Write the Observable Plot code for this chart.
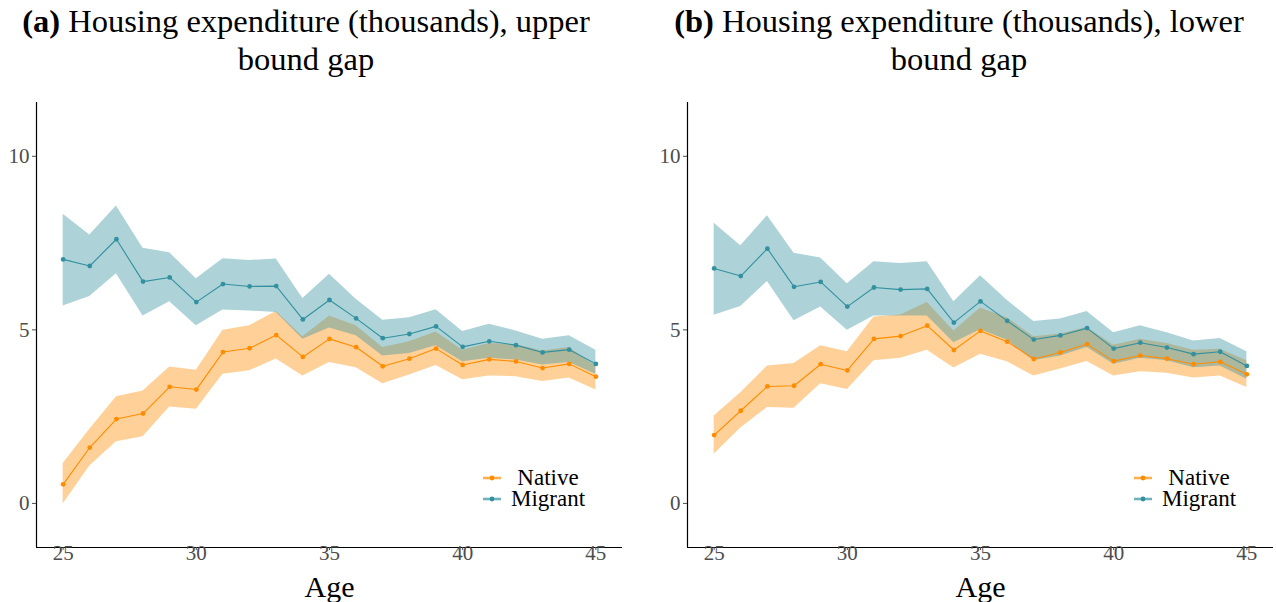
<!DOCTYPE html>
<html>
<head>
<meta charset="utf-8">
<script src="https://cdn.jsdelivr.net/npm/d3@7"></script>
<script src="https://cdn.jsdelivr.net/npm/@observablehq/plot@0.6"></script>
<style>
  html, body { margin: 0; padding: 0; background: #fff; }
  #root { position: relative; width: 1276px; height: 602px; overflow: hidden; font-family: "Liberation Serif", serif; }
  .title { position: absolute; top: 2px; text-align: center; font-size: 32.5px; line-height: 38px; color: #000; white-space: nowrap; }
  .panel { position: absolute; top: 90px; }
  .legend { position: absolute; font-size: 23px; line-height: 21px; color: #000; text-align: center; white-space: nowrap; transform: translateX(-50%); }
  .key { position: absolute; }
</style>
</head>
<body>
<div id="root"></div>
<script>
// ---- data ----
const ages = [25, 26, 27, 28, 29, 30, 31, 32, 33, 34, 35, 36, 37, 38, 39, 40, 41, 42, 43, 44, 45];
const yTicks = [0, 5, 10];
const xTicks = [25, 30, 35, 40, 45];
const seriesNames = ["Native", "Migrant"];

// Panel (a): upper bound gap
const nativeA   = [0.55, 1.61, 2.43, 2.59, 3.36, 3.28, 4.36, 4.47, 4.85, 4.22, 4.74, 4.50, 3.95, 4.17, 4.46, 3.99, 4.15, 4.09, 3.90, 4.02, 3.65];
const nativeALo = [-0.02, 1.08, 1.78, 1.92, 2.78, 2.71, 3.72, 3.82, 4.16, 3.67, 4.06, 3.91, 3.45, 3.70, 3.97, 3.56, 3.67, 3.65, 3.51, 3.61, 3.27];
const nativeAHi = [1.15, 2.14, 3.07, 3.24, 3.93, 3.84, 4.99, 5.12, 5.53, 4.80, 5.40, 5.12, 4.49, 4.66, 4.94, 4.41, 4.61, 4.57, 4.39, 4.49, 3.96];
const migrantA   = [7.03, 6.84, 7.61, 6.39, 6.51, 5.80, 6.32, 6.25, 6.26, 5.30, 5.86, 5.33, 4.76, 4.88, 5.10, 4.51, 4.67, 4.56, 4.35, 4.43, 4.02];
const migrantALo = [5.69, 5.96, 6.62, 5.40, 5.81, 5.12, 5.57, 5.54, 5.50, 4.73, 5.05, 4.83, 4.25, 4.32, 4.54, 4.08, 4.18, 4.13, 3.99, 4.06, 3.72];
const migrantAHi = [8.33, 7.73, 8.57, 7.35, 7.22, 6.47, 7.05, 7.00, 7.04, 5.90, 6.60, 5.88, 5.28, 5.35, 5.58, 4.95, 5.16, 4.97, 4.73, 4.83, 4.41];

// Panel (b): lower bound gap
const nativeB   = [1.97, 2.67, 3.37, 3.39, 4.01, 3.83, 4.74, 4.82, 5.12, 4.42, 4.97, 4.66, 4.16, 4.35, 4.59, 4.10, 4.26, 4.17, 4.01, 4.08, 3.72];
const nativeBLo = [1.42, 2.17, 2.76, 2.74, 3.45, 3.28, 4.11, 4.18, 4.41, 3.90, 4.30, 4.08, 3.67, 3.87, 4.09, 3.67, 3.79, 3.75, 3.61, 3.67, 3.34];
const nativeBHi = [2.52, 3.19, 3.96, 4.03, 4.54, 4.37, 5.37, 5.43, 5.79, 4.97, 5.63, 5.35, 4.80, 4.88, 5.07, 4.56, 4.73, 4.61, 4.41, 4.44, 4.11];
const migrantB   = [6.77, 6.55, 7.34, 6.24, 6.38, 5.67, 6.22, 6.16, 6.18, 5.21, 5.82, 5.26, 4.72, 4.84, 5.05, 4.46, 4.63, 4.49, 4.30, 4.37, 3.96];
const migrantBLo = [5.42, 5.67, 6.39, 5.26, 5.66, 4.99, 5.40, 5.40, 5.40, 4.63, 5.00, 4.70, 4.11, 4.25, 4.49, 4.01, 4.18, 4.11, 3.91, 3.96, 3.58];
const migrantBHi = [8.07, 7.42, 8.29, 7.21, 7.07, 6.33, 6.96, 6.91, 6.96, 5.81, 6.56, 5.85, 5.24, 5.31, 5.53, 4.92, 5.12, 4.92, 4.68, 4.75, 4.37];

const titleA = ["(a)", " Housing expenditure (thousands), upper", "bound gap"];
const titleB = ["(b)", " Housing expenditure (thousands), lower", "bound gap"];

// ---- styles ----
const NATIVE = "#FF8C00";
const MIGRANT = "#33919F";
const X_DOMAIN = [24, 46];
const Y_DOMAIN = [-1.27, 11.55];
const SERIF = "'Liberation Serif', serif";

function rows(mean, lo, hi) {
  return ages.map((a, i) => ({ age: a, y: mean[i], lo: lo[i], hi: hi[i] }));
}

function panel(n, nLo, nHi, m, mLo, mHi, width, marginRight) {
  const nat = rows(n, nLo, nHi);
  const mig = rows(m, mLo, mHi);
  const svg = Plot.plot({
    width, height: 512,
    marginTop: 12, marginBottom: 55, marginLeft: 36, marginRight,
    style: { fontFamily: SERIF, fontSize: "21px", background: "transparent", overflow: "visible" },
    x: { domain: X_DOMAIN },
    y: { domain: Y_DOMAIN },
    marks: [
      Plot.areaY(nat, { x: "age", y1: "lo", y2: "hi", fill: NATIVE, fillOpacity: 0.4 }),
      Plot.areaY(mig, { x: "age", y1: "lo", y2: "hi", fill: MIGRANT, fillOpacity: 0.4 }),
      Plot.lineY(nat, { x: "age", y: "y", stroke: NATIVE, strokeWidth: 1.1 }),
      Plot.lineY(mig, { x: "age", y: "y", stroke: MIGRANT, strokeWidth: 1.1 }),
      Plot.dot(nat, { x: "age", y: "y", fill: NATIVE, r: 2.4 }),
      Plot.dot(mig, { x: "age", y: "y", fill: MIGRANT, r: 2.4 }),
      Plot.ruleX([X_DOMAIN[0]], { stroke: "#000", strokeWidth: 1.2 }),
      Plot.ruleY([Y_DOMAIN[0]], { stroke: "#000", strokeWidth: 1.2 }),
      Plot.axisY({ ticks: yTicks, tickSize: 4, tickPadding: 3, label: null, color: "#4d4d4d", fontSize: 21 }),
      Plot.axisX({ ticks: xTicks, tickSize: 3, tickPadding: -5, label: "Age", labelAnchor: "center", labelArrow: "none", labelOffset: 49, color: "#4d4d4d", fontSize: 21 })
    ]
  });
  const s = d3.select(svg);
  s.selectAll("text").style("font-family", SERIF);
  s.selectAll('g[aria-label="x-axis tick label"] text, g[aria-label="y-axis tick label"] text')
    .style("font-size", "21px").style("fill", "#4d4d4d");
  s.selectAll('g[aria-label="x-axis label"] text').style("font-size", "30px").style("fill", "#000");
  return svg;
}

const root = document.getElementById("root");

function addTitle(parts, left, width) {
  const d = document.createElement("div");
  d.className = "title";
  d.style.left = left + "px";
  d.style.width = width + "px";
  const b = document.createElement("b");
  b.textContent = parts[0];
  d.appendChild(b);
  d.appendChild(document.createTextNode(parts[1]));
  d.appendChild(document.createElement("br"));
  d.appendChild(document.createTextNode(parts[2]));
  root.appendChild(d);
}

function addPanel(svg, left) {
  const w = document.createElement("div");
  w.className = "panel";
  w.style.left = left + "px";
  w.appendChild(svg);
  root.appendChild(w);
}

function keySvg(color) {
  const ns = "http://www.w3.org/2000/svg";
  const s = document.createElementNS(ns, "svg");
  s.setAttribute("width", 18); s.setAttribute("height", 22);
  const band = document.createElementNS(ns, "rect");
  band.setAttribute("x", 0); band.setAttribute("y", 9.5); band.setAttribute("width", 18); band.setAttribute("height", 3);
  band.setAttribute("fill", color); band.setAttribute("fill-opacity", 0.4);
  const line = document.createElementNS(ns, "line");
  line.setAttribute("x1", 0); line.setAttribute("x2", 18); line.setAttribute("y1", 11); line.setAttribute("y2", 11);
  line.setAttribute("stroke", color); line.setAttribute("stroke-width", 1);
  const c = document.createElementNS(ns, "circle");
  c.setAttribute("cx", 9); c.setAttribute("cy", 11); c.setAttribute("r", 2.4); c.setAttribute("fill", color);
  s.appendChild(band); s.appendChild(line); s.appendChild(c);
  return s;
}

function addLegend(keyLeft, textCenter, top) {
  const colors = [NATIVE, MIGRANT];
  colors.forEach((col, i) => {
    const k = document.createElement("div");
    k.className = "key";
    k.style.left = keyLeft + "px";
    k.style.top = (top + i * 21 - 11) + "px";
    k.appendChild(keySvg(col));
    root.appendChild(k);
  });
  const t = document.createElement("div");
  t.className = "legend";
  t.style.left = textCenter + "px";
  t.style.top = (top - 11) + "px";
  seriesNames.forEach((name, i) => {
    if (i) t.appendChild(document.createElement("br"));
    t.appendChild(document.createTextNode(name));
  });
  root.appendChild(t);
}

addTitle(titleA, 0, 612);
addTitle(titleB, 651, 616);
addPanel(panel(nativeA, nativeALo, nativeAHi, migrantA, migrantALo, migrantAHi, 638, 16), 0);
addPanel(panel(nativeB, nativeBLo, nativeBHi, migrantB, migrantBLo, migrantBHi, 625, 3), 651);
addLegend(483, 548, 478);
addLegend(1134, 1199, 478);
</script>
</body>
</html>
